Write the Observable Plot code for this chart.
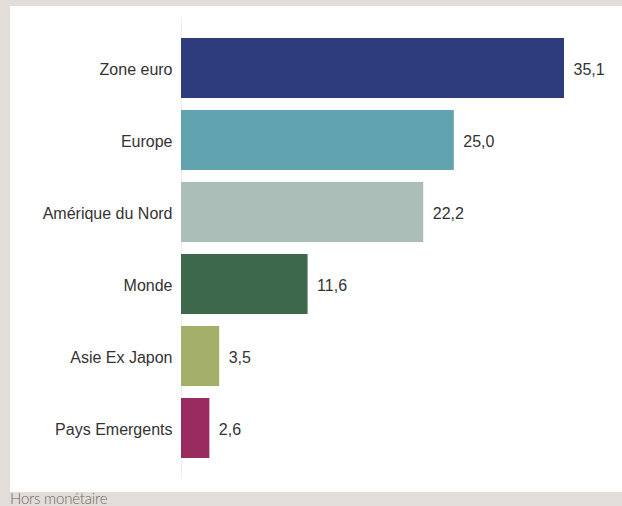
<!DOCTYPE html>
<html>
<head>
<meta charset="utf-8">
<script src="https://cdn.jsdelivr.net/npm/d3@7"></script>
<script src="https://cdn.jsdelivr.net/npm/@observablehq/plot@0.6"></script>
<style>
  html, body { margin: 0; padding: 0; background: #e2ddd8; width: 622px; height: 506px; overflow: hidden; }
  #panel { position: absolute; left: 10px; top: 6px; width: 612px; height: 486px; background: #fff; }
  #caption { position: absolute; left: 10px; top: 489px; font-family: Lato, "Open Sans", sans-serif; font-weight: 300; font-size: 15px; color: #6f6a66; white-space: nowrap; letter-spacing: -0.2px; }
</style>
</head>
<body>
<div id="panel"></div>
<div id="caption">Hors monétaire</div>
<script>
const categories = ["Zone euro", "Europe", "Amérique du Nord", "Monde", "Asie Ex Japon", "Pays Emergents"];
const values = [35.1, 25.0, 22.2, 11.6, 3.5, 2.6];
const colors = ["#2e3c7e", "#61a3ae", "#abbfb8", "#3d684c", "#a4b06a", "#9a2b5e"];

const data = categories.map((c, i) => ({category: c, value: values[i], color: colors[i]}));
const fmt = v => v.toFixed(1).replace(".", ",");

const chart = Plot.plot({
  width: 612,
  height: 486,
  marginLeft: 171,
  marginRight: 58,
  marginTop: 12,
  marginBottom: 14,
  style: {fontFamily: "'Liberation Sans', Arial, sans-serif", fontSize: "16px", color: "#333", background: "transparent"},
  x: {domain: [0, d3.max(values)], axis: null},
  y: {domain: categories, range: [25, 460], paddingInner: 0.16, paddingOuter: 0.08, label: null},
  marks: [
    Plot.ruleX([0], {stroke: "#ececec", strokeWidth: 1}),
    Plot.barX(data, {y: "category", x: "value", fill: "color"}),
    Plot.text(data, {y: "category", x: "value", text: d => fmt(d.value), dx: 9, dy: 1, textAnchor: "start", fill: "#333", fontSize: 16}),
    Plot.axisY({tickSize: 0, tickPadding: 9, fontSize: 16, fill: "#333", label: null, dy: 1})
  ]
});
document.getElementById("panel").appendChild(chart);
</script>
</body>
</html>
